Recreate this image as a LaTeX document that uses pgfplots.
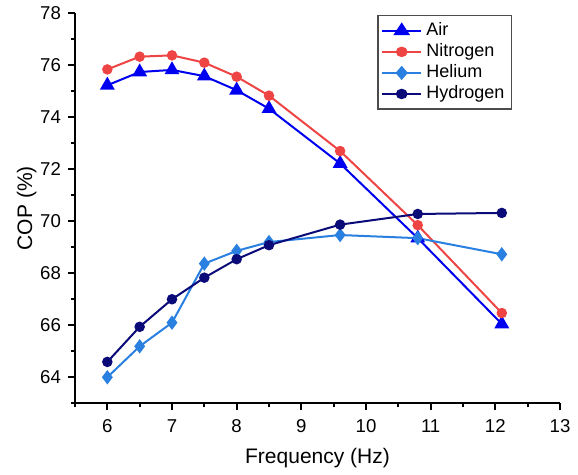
\documentclass[border=0pt]{standalone}
\usepackage{pgfplots}
\pgfplotsset{compat=1.18}
\usepackage{fontspec}
\setmainfont{Liberation Sans}
\definecolor{cair}{HTML}{0000F0}
\definecolor{cnit}{HTML}{EE4444}
\definecolor{chel}{HTML}{2A80E0}
\definecolor{chyd}{HTML}{0A0A78}
\begin{document}
\begin{tikzpicture}
\begin{axis}[
  scale only axis,
  width=242.5pt, height=195pt,
  xmin=5.5, xmax=13, ymin=63, ymax=78,
  axis x line*=bottom, axis y line*=left,
  axis line style={line width=1pt, -},
  xtick={6,...,13}, ytick={64,66,...,78},
  minor xtick={5.5,6.5,...,12.5}, minor ytick={63,65,...,77},
  tick align=outside,
  major tick length=3.5pt, minor tick length=2pt,
  every tick/.style={black, line width=0.9pt},
  tick label style={font=\fontsize{9.3}{10}\selectfont},
  /pgf/number format/assume math mode=true,
  xticklabel style={yshift=-1pt},
  xlabel={Frequency (Hz)}, ylabel={COP (\%)},
  label style={font=\fontsize{10.5}{12}\selectfont},
  xlabel style={yshift=-1pt},
  ylabel style={yshift=-5pt},
  legend style={at={(0.901,0.995)}, anchor=north east, draw=black!70, line width=0.6pt,
    font=\fontsize{9}{10.5}\selectfont, row sep=-1.5pt, inner sep=1.5pt},
  legend image post style={xscale=1.15},
  legend cell align=left,
  every axis plot/.append style={line width=1pt},
]
\addplot[color=cair, mark=triangle*, mark size=3.3pt] coordinates {
(6,75.23) (6.5,75.74) (7,75.82) (7.5,75.58) (8,75.04) (8.5,74.33) (9.6,72.22) (10.8,69.35) (12.1,66.05)};
\addlegendentry{Air}
\addplot[color=cnit, mark=*, mark size=2.1pt] coordinates {
(6,75.84) (6.5,76.33) (7,76.38) (7.5,76.1) (8,75.56) (8.5,74.83) (9.6,72.7) (10.8,69.85) (12.1,66.47)};
\addlegendentry{Nitrogen}
\addplot[color=chel, mark=diamond*, mark size=2.8pt] coordinates {
(6,64.0) (6.5,65.19) (7,66.1) (7.5,68.37) (8,68.86) (8.5,69.2) (9.6,69.47) (10.8,69.35) (12.1,68.73)};
\addlegendentry{Helium}
\addplot[color=chyd, mark=*, mark size=2.1pt] coordinates {
(6,64.59) (6.5,65.94) (7,67.0) (7.5,67.83) (8,68.54) (8.5,69.08) (9.6,69.87) (10.8,70.28) (12.1,70.32)};
\addlegendentry{Hydrogen}
\end{axis}
\path (current axis.south west) ++(-37.5pt,-35.5pt) coordinate (bbl);
\path (current axis.north east) ++(9pt,6.5pt) coordinate (bbr);
\path (bbl) rectangle (bbr);
\end{tikzpicture}
\end{document}
